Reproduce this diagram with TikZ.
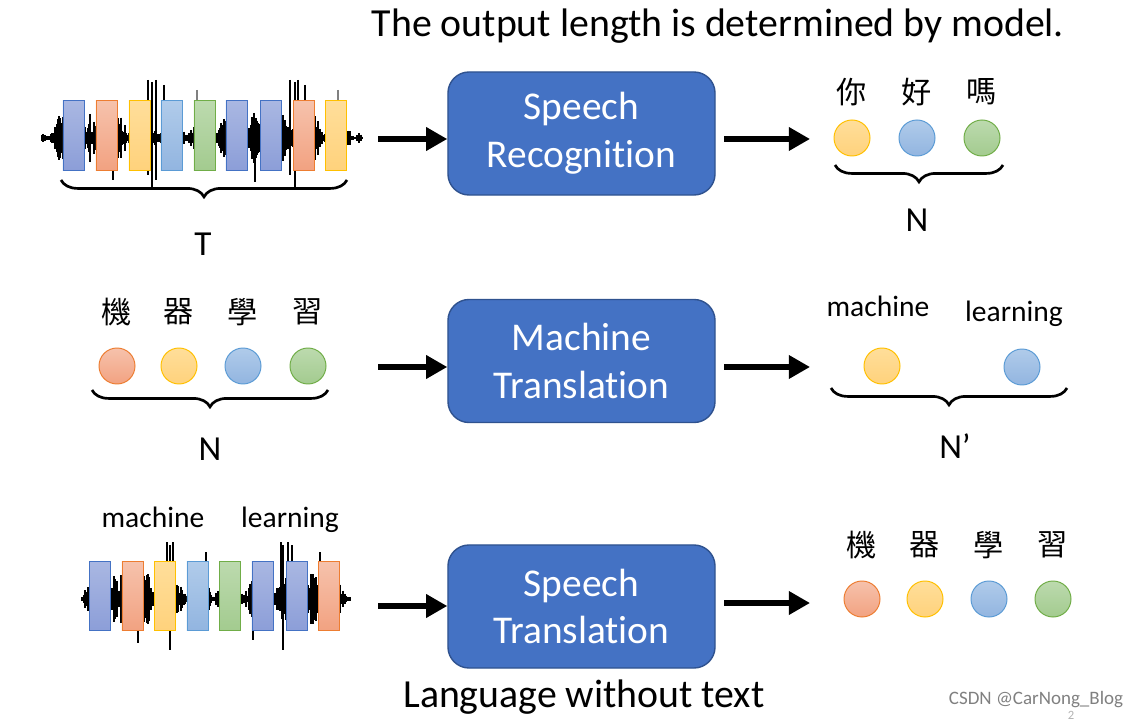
\documentclass[tikz,border=0pt]{standalone}
\usepackage{fontspec}
\setmainfont{Carlito}[Ligatures={TeX,NoCommon}, Contextuals=NoAlternate]
\newfontfamily\cjk{Noto Sans CJK TC}
\usetikzlibrary{arrows.meta,decorations.pathreplacing}

\definecolor{modelfill}{HTML}{4472C4}
\definecolor{modelline}{HTML}{2F528F}
\definecolor{blutop}{HTML}{A9B7E2}\definecolor{blubot}{HTML}{8C9ED8}\definecolor{bluline}{HTML}{4472C4}
\definecolor{orgtop}{HTML}{F6C2AC}\definecolor{orgbot}{HTML}{F2A281}\definecolor{orgline}{HTML}{ED7D31}
\definecolor{yeltop}{HTML}{FFDE9A}\definecolor{yelbot}{HTML}{FFD27C}\definecolor{yelline}{HTML}{FFC000}
\definecolor{lbltop}{HTML}{B0CBEA}\definecolor{lblbot}{HTML}{92B5E0}\definecolor{lblline}{HTML}{5B9BD5}
\definecolor{grntop}{HTML}{BCDAAE}\definecolor{grnbot}{HTML}{A3CB8F}\definecolor{grnline}{HTML}{70AD47}

\tikzset{
  model/.style={rectangle, rounded corners=15pt, fill=modelfill, draw=modelline, line width=1pt,
    minimum width=6.675cm, minimum height=3.075cm, text=white, align=center,
    font=\fontsize{28}{34}\selectfont},
  bar/.style={rectangle, minimum width=0.525cm, minimum height=1.725cm, inner sep=0pt,
    line width=0.7pt, draw=#1line, top color=#1top, bottom color=#1bot},
  tok/.style={circle, minimum size=0.9cm, inner sep=0pt, line width=0.7pt,
    draw=#1line, top color=#1top, bottom color=#1bot},
  arr/.style={line width=3.6pt, -{Triangle[length=15pt,width=16pt]}},
  brc/.style={decorate, decoration={brace, mirror, amplitude=12pt}, line width=1.9pt},
  wave/.style={line width=0.8pt},
  big/.style={font=\fontsize{28.3}{34}\selectfont},
  len/.style={font=\fontsize{25}{30}\selectfont},
  word/.style={font=\fontsize{21}{25}\selectfont, anchor=base},
  han/.style={font=\cjk\fontsize{21.5}{25}\selectfont},
}

% waveform: x from, x to, centre y
\newcommand\wavefm[3]{%
  \foreach \x in {#1,...,#2}{%
    \pgfmathsetmacro\amp{(3+24*rnd)*(0.6+0.4*sin(\x*13))*min(1,(\x-#1)/20+0.3)*min(1,(#2-\x)/20+0.3)}%
    \draw[wave] (\x,#3-\amp) -- (\x,#3+\amp);
  }}

\begin{document}
\begin{tikzpicture}[x=0.025cm,y=-0.025cm]
\useasboundingbox (0,0) rectangle (1139,721);
\pgfmathsetseed{11}

\node[big] (ttl) at (718,26) {The output length is determined by model.};
\node[big] (note) at (584,697) {Language without text};

% row 1: speech recognition
\wavefm{42}{362}{138}
\foreach \x/\a/\b in {148/80/175,152/82/190,156/80/180,164/85/170,113/140/180,255/120/182,
                      290/80/175,295/82/188,298/80/170,305/85/165}
  \draw[wave] (\x,\a) -- (\x,\b);
\foreach \x/\a/\b in {197/90/140,338/90/140}
  \draw[wave,gray] (\x,\a) -- (\x,\b);
\foreach \x/\c [count=\i] in {73.5/blu,106.5/org,139.5/yel,171.5/lbl,204.5/grn,
                              236.5/blu,270.5/blu,303.5/org,335.5/yel}
  \node[bar=\c] (wa\i) at (\x,135.5) {};
\draw[brc] (61,180) -- (347,180);
\node[len] (lenT) at (203,244) {T};

\node[model] (sr) at (581.5,133.5) {Speech\\Recognition};

\foreach \x/\c/\t [count=\i] in {852/yel/你,917/lbl/好,982/grn/嗎}{
  \node[tok=\c] (ya\i) at (\x,138) {};
  \node[han] (ca\i) at (\x,92) {\t};
}
\draw[brc] (835,165) -- (1003,165);
\node[len] (lenA) at (917,220) {N};

% row 2: machine translation
\foreach \x/\c/\t [count=\i] in {117/org/機,179/yel/器,243/lbl/學,308/grn/習}{
  \node[tok=\c] (xb\i) at (\x,366) {};
  \node[han] (cb\i) at (\x,312) {\t};
}
\draw[brc] (92,390) -- (328,390);
\node[len] (lenB) at (210,449) {N};

\node[model] (mt) at (581.5,361) {Machine\\Translation};

\node[tok=yel] (yb1) at (882,366) {};
\node[tok=lbl] (yb2) at (1022,367) {};
\node[word] (wb1) at (878,317) {machine};
\node[word] (wb2) at (1014,322) {learning};
\draw[brc] (831,388) -- (1067,388);
\node[len] (lenC) at (955,446) {N'};

% row 3: speech translation
\node[word] (wc1) at (153,527) {machine};
\node[word] (wc2) at (290,527) {learning};
\wavefm{82}{350}{599}
\foreach \x/\a/\b in {167/542/600,170/545/650,173/542/600,206/552/600,138/600/643,253/600/640,
                      281/542/600,283/545/650,288/542/600,292/545/600,320/552/600}
  \draw[wave] (\x,\a) -- (\x,\b);
\foreach \x/\c [count=\i] in {100/blu,132.5/org,165/yel,197.5/lbl,230/grn,
                              262.5/blu,296.5/blu,329/org}
  \node[bar=\c] (wc\i) at (\x,596) {};

\node[model] (st) at (581.5,606.5) {Speech\\Translation};

\foreach \x/\c/\t [count=\i] in {862/org/機,925/yel/器,989/lbl/學,1053/grn/習}{
  \node[tok=\c] (yc\i) at (\x,599) {};
  \node[han] (cc\i) at (\x,545) {\t};
}

% arrows
\coordinate (in1) at (378,139);
\coordinate (in2) at (378,367);
\coordinate (in3) at (378,606);
\coordinate (o1a) at (724,139);  \coordinate (o1b) at (810,139);
\coordinate (o2a) at (724,367);  \coordinate (o2b) at (810,367);
\coordinate (o3a) at (724,603);  \coordinate (o3b) at (810,603);
\draw[arr] (in1) -- (in1 -| sr.west);
\draw[arr] (in2) -- (in2 -| mt.west);
\draw[arr] (in3) -- (in3 -| st.west);
\draw[arr] (o1a) -- (o1b);
\draw[arr] (o2a) -- (o2b);
\draw[arr] (o3a) -- (o3b);

\node[font=\fontsize{13.5}{15}\selectfont, text=gray] (mark) at (1036,700) {CSDN @CarNong\_Blog};
\node[font=\fontsize{9}{10}\selectfont, text=gray!60] (page) at (1071,715) {2};
\end{tikzpicture}
\end{document}
